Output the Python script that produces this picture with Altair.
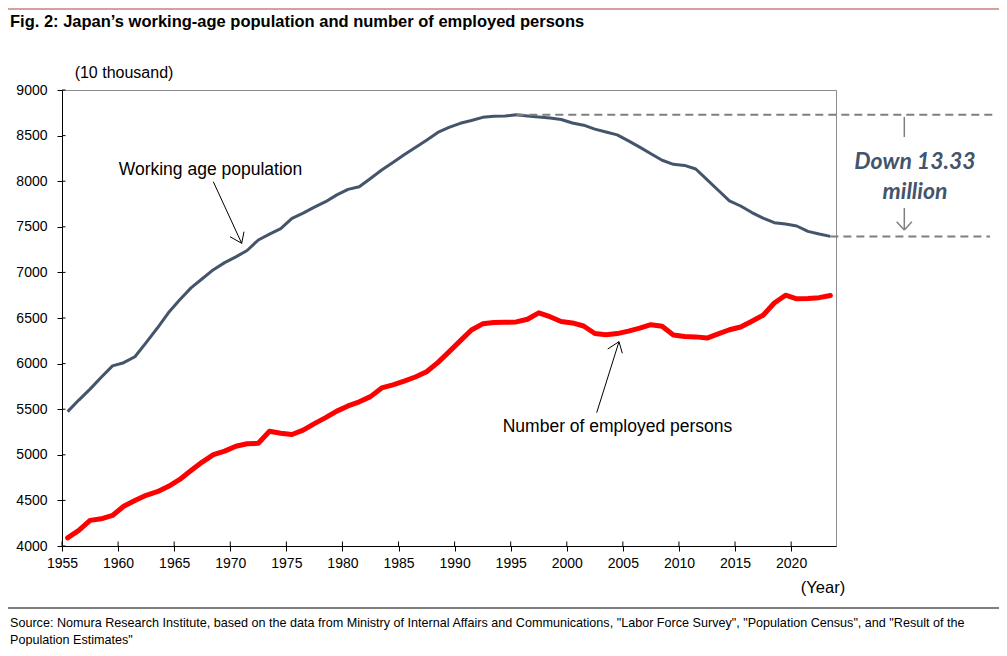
import altair as alt
import pandas as pd

# ---------------- data ----------------
years = list(range(1955, 2024))
working_age = [
    5473, 5600, 5720, 5850, 5975, 6010, 6075, 6230, 6390, 6560,   # 1955-1964
    6700, 6830, 6930, 7030, 7107, 7170, 7240, 7355, 7420, 7480,   # 1965-1974
    7593, 7650, 7715, 7775, 7850, 7910, 7940, 8030, 8123, 8205,   # 1975-1984
    8290, 8370, 8450, 8535, 8590, 8635, 8665, 8700, 8712, 8715,   # 1985-1994
    8728, 8716, 8704, 8692, 8676, 8638, 8614, 8571, 8540, 8508,   # 1995-2004
    8442, 8373, 8301, 8230, 8185, 8173, 8134, 8018, 7901, 7785,   # 2005-2014
    7728, 7656, 7596, 7545, 7530, 7509, 7450, 7421, 7395,         # 2015-2023
]
employed = [
    4090, 4171, 4281, 4298, 4335, 4436, 4498, 4556, 4595, 4655,   # 1955-1964
    4730, 4827, 4920, 5002, 5040, 5094, 5121, 5126, 5259, 5237,   # 1965-1974
    5223, 5271, 5342, 5408, 5479, 5536, 5581, 5638, 5733, 5766,   # 1975-1984
    5807, 5853, 5911, 6011, 6128, 6249, 6369, 6436, 6450, 6453,   # 1985-1994
    6457, 6486, 6557, 6514, 6462, 6446, 6412, 6330, 6316, 6329,   # 1995-2004
    6356, 6389, 6427, 6409, 6314, 6298, 6293, 6280, 6326, 6371,   # 2005-2014
    6401, 6465, 6530, 6664, 6750, 6710, 6713, 6723, 6747,         # 2015-2023
]
x_ticks = list(range(1955, 2021, 5))
y_ticks = list(range(4000, 9001, 500))

title_text = "Fig. 2: Japan\u2019s working-age population and number of employed persons"
unit_text = "(10 thousand)"
year_text = "(Year)"
label_working = "Working age population"
label_employed = "Number of employed persons"
down_lines = ["Down 13.33", "million"]
source_lines = [
    "Source: Nomura Research Institute, based on the data from Ministry of Internal Affairs and Communications, "
    "\"Labor Force Survey\", \"Population Census\", and \"Result of the",
    "Population Estimates\"",
]

# ---------------- styling ----------------
FONT = "Liberation Sans"
GRAY = "#44546A"
RED = "#FF0000"
DASH = "#7F7F7F"

df = pd.DataFrame({
    "xpos": [y + 0.5 for y in years],
    "working": working_age,
    "employed": employed,
})

x_scale = alt.Scale(domain=[1955, 2024], nice=False, zero=False)
y_scale = alt.Scale(domain=[4000, 9000], nice=False, zero=False)

x_axis = alt.Axis(values=x_ticks, format="d", title=None, grid=False,
                  tickSize=5, labelPadding=5, labelFontSize=14, labelFont=FONT,
                  labelColor="black", domainColor="black", tickColor="black",
                  domainWidth=1, tickWidth=1, labelFlush=False, labelOverlap=False)
y_axis = alt.Axis(values=y_ticks, format="d", title=None, grid=False,
                  tickSize=5, labelPadding=10, labelFontSize=14, labelFont=FONT,
                  labelColor="black", domainColor="black", tickColor="black",
                  domainWidth=1, tickWidth=1, labelFlush=False, labelOverlap=False)

base = alt.Chart(df)

line_work = base.mark_line(color=GRAY, strokeWidth=3, strokeJoin="round").encode(
    x=alt.X("xpos:Q", scale=x_scale, axis=x_axis),
    y=alt.Y("working:Q", scale=y_scale, axis=y_axis),
)
line_emp = base.mark_line(color=RED, strokeWidth=5, strokeJoin="round", strokeCap="round").encode(
    x=alt.X("xpos:Q", scale=x_scale, title=None),
    y=alt.Y("employed:Q", scale=y_scale, title=None),
)

# inward half of the crossing tick marks
ytick_df = pd.DataFrame({"v": y_ticks})
xtick_df = pd.DataFrame({"v": x_ticks})
ytick_in = alt.Chart(ytick_df).mark_rule(color="black", strokeWidth=1).encode(
    y=alt.Y("v:Q", scale=y_scale, title=None), x=alt.value(0), x2=alt.value(3.5))
xtick_in = alt.Chart(xtick_df).mark_rule(color="black", strokeWidth=1).encode(
    x=alt.X("v:Q", scale=x_scale, title=None), y=alt.value(456), y2=alt.value(451.5))

# dashed reference lines (peak and latest working-age population)
peak_i = working_age.index(max(working_age))
peak_df = pd.DataFrame({"xpos": [years[peak_i] + 0.5], "v": [working_age[peak_i]]})
last_df = pd.DataFrame({"xpos": [years[-1] + 0.5], "v": [working_age[-1]]})
dash_top = alt.Chart(peak_df).mark_rule(color=DASH, strokeWidth=2, strokeDash=[8, 5]).encode(
    x=alt.X("xpos:Q", scale=x_scale, title=None), x2=alt.value(931),
    y=alt.Y("v:Q", scale=y_scale, title=None))
dash_bot = alt.Chart(last_df).mark_rule(color=DASH, strokeWidth=2, strokeDash=[8, 5]).encode(
    x=alt.X("xpos:Q", scale=x_scale, title=None), x2=alt.value(928),
    y=alt.Y("v:Q", scale=y_scale, title=None))


def text(t, x, y, size=14, weight="normal", style="normal", align="left",
         color="black", font=FONT, baseline="middle"):
    return alt.Chart(pd.DataFrame({"t": [t]})).mark_text(
        fontSize=size, fontWeight=weight, fontStyle=style, align=align,
        baseline=baseline, color=color, font=font,
    ).encode(text="t:N", x=alt.value(x), y=alt.value(y))


def seg(x1, y1, x2, y2, color="black", width=1.0):
    return alt.Chart(pd.DataFrame({"a": [0]})).mark_rule(color=color, strokeWidth=width).encode(
        x=alt.value(x1), y=alt.value(y1), x2=alt.value(x2), y2=alt.value(y2))


layers = [
    line_work, line_emp, ytick_in, xtick_in, dash_top, dash_bot,
    # header / footer
    seg(-54, -81, 937, -81, color="#B0423F", width=1.2),
    text(title_text, -52, -68, size=16.5, weight="bold"),
    text(unit_text, 62, -17, size=16, align="center"),
    text(year_text, 761, 498, size=16.5, align="center"),
    seg(-54, 518, 938, 518, color="black", width=1.2),
    text(source_lines[0], -52, 533, size=12.6),
    text(source_lines[1], -52, 550, size=12.6),
    # series labels and arrows
    text(label_working, 148.5, 80, size=17.5, align="center"),
    seg(151.3, 91.7, 179.7, 153.3),
    seg(179.7, 153.3, 168.0, 146.7),
    seg(179.7, 153.3, 182.0, 141.7),
    text(label_employed, 555.5, 337, size=17.5, align="center"),
    seg(534.7, 322.7, 557.0, 251.7),
    seg(557.0, 251.7, 545.7, 259.0),
    seg(557.0, 251.7, 560.3, 263.3),
    # decline annotation
    seg(842.3, 27, 842.3, 47, color=DASH, width=1.5),
    text(down_lines[0], 853, 71.7, size=23, weight="bold", style="italic", align="center",
         color=GRAY, font="Lato"),
    text(down_lines[1], 853, 101.7, size=23, weight="bold", style="italic", align="center",
         color=GRAY, font="Lato"),
    seg(842.3, 118, 842.3, 140, color=DASH, width=1.5),
    seg(842.3, 140, 834.7, 131.7, color=DASH, width=1.5),
    seg(842.3, 140, 849.9, 131.7, color=DASH, width=1.5),
]

chart = alt.layer(*layers).properties(
    width=774,
    height=456,
    padding={"left": 54, "top": 82, "right": 163, "bottom": 100},
    autosize=alt.AutoSizeParams(type="none"),
    background="white",
).configure_view(stroke="#8C8C8C", strokeWidth=1)

chart.save("out.html", embed_options={"renderer": "svg", "actions": False})
